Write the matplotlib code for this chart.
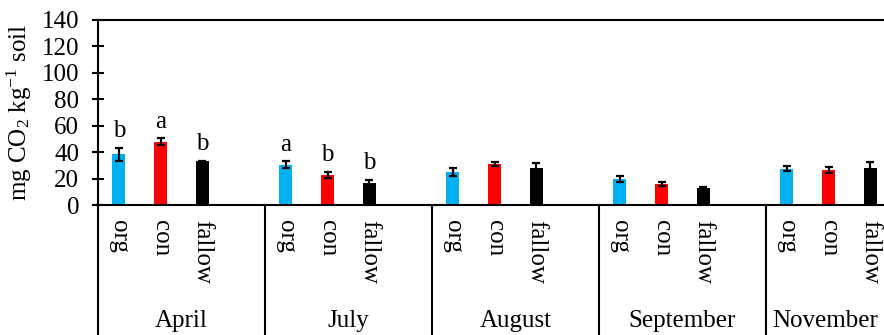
import matplotlib
matplotlib.use("Agg")
import matplotlib.pyplot as plt
import matplotlib.transforms as mtransforms
import numpy as np

# ---------------------------------------------------------------- #
# Respiration per sampling month and treatment
months = ["April", "July", "August", "September", "November"]
treatments = ["org", "con", "fallow"]
colors = ["#00B0F0", "#FF0000", "#000000"]

org_mean = [38.5, 30.5, 25.2, 19.8, 27.5]
org_err = [5.0, 2.7, 3.0, 2.4, 2.0]
con_mean = [48.0, 22.7, 31.0, 16.0, 26.5]
con_err = [2.5, 2.4, 1.8, 1.6, 2.2]
fallow_mean = [33.0, 16.7, 28.0, 13.1, 28.0]
fallow_err = [0.6, 2.3, 4.0, 0.4, 4.8]

# significance letters (April and July only)
letters = {0: ["b", "a", "b"], 1: ["a", "b", "b"]}

yticks = [0, 20, 40, 60, 80, 100, 120, 140]

# ---------------------------------------------------------------- #
plt.rcParams["font.family"] = ["Liberation Serif", "DejaVu Serif"]
plt.rcParams["mathtext.fontset"] = "custom"
plt.rcParams["mathtext.rm"] = "Liberation Serif"
plt.rcParams["mathtext.it"] = "Liberation Serif:italic"
fs = 18

fig = plt.figure(figsize=(8.84, 3.35), dpi=100)
left = 98 / 884
width = 835 / 884
ax = fig.add_axes([left, 130 / 335, width, 185 / 335])

slots = 4  # three treatments + one empty slot per month
means = [org_mean, con_mean, fallow_mean]
errs = [org_err, con_err, fallow_err]

tick_pos = []
tick_lab = []
for g in range(len(months)):
    for i in range(slots):
        tick_pos.append(g * slots + i)
        tick_lab.append(treatments[i] if i < len(treatments) else "")
    for i in range(len(treatments)):
        x = g * slots + i
        ax.bar(x, means[i][g], width=0.31, color=colors[i], zorder=2)
        ax.errorbar(x, means[i][g], yerr=errs[i][g], color="black",
                    elinewidth=1.6, capsize=3.2, capthick=1.6, zorder=3)
        if g in letters:
            ax.annotate(letters[g][i], (x, means[i][g] + errs[i][g]),
                        xytext=(0, 4), textcoords="offset points",
                        ha="center", va="bottom", fontsize=fs)

xlo, xhi = -0.5, len(months) * slots - 0.5
ax.set_xlim(xlo, xhi)
ax.set_ylim(0, 140)
ax.set_yticks(yticks)
ax.tick_params(axis="y", direction="inout", length=9, width=1.5,
               labelsize=fs, pad=9)
ax.set_xticks(tick_pos)
ax.set_xticklabels(tick_lab, rotation=-90, fontsize=fs)
ax.tick_params(axis="x", length=0, pad=11)

for s in ["left", "bottom", "top", "right"]:
    ax.spines[s].set_linewidth(1.5)

ax.set_ylabel(r"mg CO$_2$ kg$^{\mathrm{-1}}$ soil", fontsize=fs, va="center")
ax.yaxis.set_label_coords(-0.094, 0.5)

# month separators and names below the axis
trans = mtransforms.blended_transform_factory(ax.transData, ax.transAxes)
x_visible = xlo + (1 - left) / width * (xhi - xlo)
for g in range(len(months) + 1):
    xb = g * slots - 0.5
    ax.plot([xb, xb], [0, -1.0], color="black", lw=1.5,
            transform=trans, clip_on=False)
for g, m in enumerate(months):
    start = g * slots - 0.5
    end = min(start + slots, x_visible)
    ax.text((start + end) / 2, -0.625, m, transform=trans,
            ha="center", va="center", fontsize=fs)

fig.savefig("out.png", dpi=100)
